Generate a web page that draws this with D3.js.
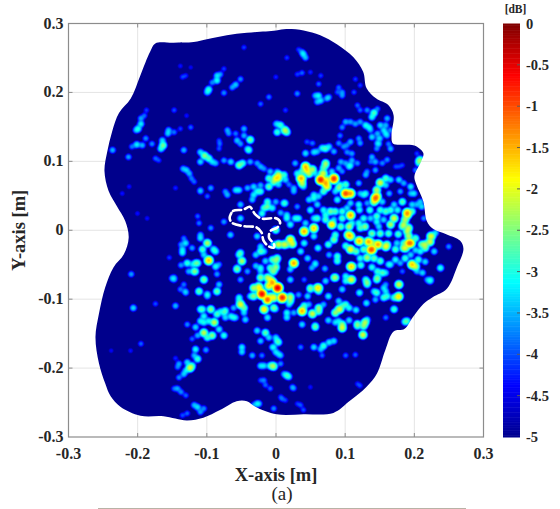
<!DOCTYPE html>
<html>
<head>
<meta charset="utf-8">
<script src="https://cdn.jsdelivr.net/npm/d3@7"></script>
<style>
  html, body { margin: 0; padding: 0; background: #fff; }
  text { font-family: "Liberation Serif", serif; fill: #262626; }
</style>
</head>
<body>
<div id="chart"></div>
<script>
// Axis ticks and labels
const xTicks = [-0.3, -0.2, -0.1, 0, 0.1, 0.2, 0.3];
const yTicks = [-0.3, -0.2, -0.1, 0, 0.1, 0.2, 0.3];
const barTicks = [0, -0.5, -1, -1.5, -2, -2.5, -3, -3.5, -4, -4.5, -5];

// Aperture outline, [x, y] in metres
const outline = [
  [-0.1745, 0.271], [-0.148, 0.272], [-0.119, 0.273], [-0.1, 0.277], [-0.071, 0.283], [-0.042, 0.2865], [0, 0.29],
  [0.015, 0.292], [0.04, 0.29], [0.064, 0.283], [0.088, 0.27], [0.112, 0.251], [0.126, 0.23], [0.131, 0.206],
  [0.145, 0.191], [0.162, 0.182], [0.17, 0.167], [0.167, 0.138], [0.169, 0.126], [0.184, 0.124], [0.2, 0.123],
  [0.213, 0.112], [0.21, 0.1], [0.2, 0.078], [0.203, 0.066], [0.213, 0.042], [0.218, 0.0135], [0.227, 0.002],
  [0.247, -0.006], [0.266, -0.015], [0.271, -0.027], [0.2615, -0.054], [0.247, -0.085], [0.227, -0.097],
  [0.213, -0.107], [0.198, -0.126], [0.186, -0.143], [0.17, -0.147], [0.158, -0.174], [0.146, -0.208],
  [0.131, -0.227], [0.105, -0.249], [0.083, -0.265], [0.04, -0.267], [0.001, -0.267], [-0.03, -0.256],
  [-0.042, -0.248], [-0.057, -0.248], [-0.081, -0.261], [-0.105, -0.272], [-0.129, -0.276], [-0.1625, -0.27],
  [-0.196, -0.269], [-0.225, -0.256], [-0.239, -0.241], [-0.247, -0.222], [-0.256, -0.193], [-0.261, -0.155],
  [-0.256, -0.121], [-0.247, -0.083], [-0.235, -0.054], [-0.22, -0.035], [-0.213, -0.011], [-0.218, 0.0135],
  [-0.23, 0.035], [-0.242, 0.057], [-0.248, 0.086], [-0.244, 0.114], [-0.237, 0.143], [-0.227, 0.17],
  [-0.21, 0.191], [-0.196, 0.225], [-0.182, 0.259]
];

// White dashed region, [x, y] in metres
const dashedRegion = [
  [-0.0655, 0.023], [-0.062, 0.028], [-0.047, 0.03], [-0.038, 0.034], [-0.03, 0.023], [-0.021, 0.017],
  [0.001, 0.017], [0.006, 0.011], [0.002, 0.004], [-0.008, -0.001], [-0.01, -0.011], [-0.003, -0.02],
  [-0.003, -0.025], [-0.011, -0.023], [-0.018, -0.015], [-0.021, -0.003], [-0.028, 0.004], [-0.047, 0.006],
  [-0.064, 0.011], [-0.067, 0.018]
];

// Hot spots, [x, y, dB]
const spotsNW = [
  [-0.047,0.266,-3.8],[-0.086,0.225,-3],[-0.098,0.205,-2.7],[-0.059,0.212,-3.1],[-0.076,0.2,-3.4],[-0.136,0.223,-3.8],
  [-0.076,0.235,-3.8],[-0.196,0.155,-2.9],[-0.2,0.148,-2.8],[-0.191,0.167,-3.6],[-0.148,0.175,-3.7],[-0.13,0.167,-4],
  [-0.202,0.125,-2.9],[-0.189,0.134,-3.4],[-0.164,0.124,-2.3],[-0.157,0.141,-3.1],[-0.237,0.117,-3.2],[-0.214,0.107,-3.3],
  [-0.17,0.102,-3.8],[-0.134,0.117,-3.2],[-0.104,0.109,-2.2],[-0.093,0.1,-3],[-0.13,0.088,-3.1],[-0.123,0.076,-3.5],
  [-0.071,0.146,-3.3],[-0.047,0.148,-3.2],[-0.038,0.132,-2.3],[-0.057,0.131,-3.1],[-0.04,0.117,-2.7],[-0.082,0.126,-3.6],
  [-0.054,0.095,-2.3],[-0.076,0.102,-3.3],[-0.038,0.1,-3.2],[-0.023,0.093,-3.2],[-0.001,0.076,-1.6],[-0.011,0.064,-2.4],
  [-0.023,0.184,-3.6],[-0.011,0.194,-3.5],[0.001,0.155,-3.2],[-0.028,0.057,-2.8],[-0.054,0.059,-3],[-0.033,0.064,-3],
  [-0.071,0.052,-3.2],[-0.095,0.062,-3.3],[-0.11,0.059,-3.5],[-0.1,0.05,-3.6],[-0.013,0.035,-2.4],[-0.018,0.033,-2.6],
  [-0.052,0.018,-3],[-0.114,0.021,-3.6],[-0.146,0.062,-3.9],[-0.213,0.064,-4],[-0.223,0.054,-4],[-0.201,0.025,-4],
  [-0.187,0.018,-4],[-0.112,0.011,-3.5],[-0.095,0.004,-3.4],[-0.076,0.013,-3.3],
  [-0.1,0.201,-3],[-0.093,0.215,-3.4],[-0.086,0.218,-2.8],[-0.081,0.227,-3.4],[-0.064,0.208,-3.3],[-0.052,0.22,-3.4],
  [-0.139,0.239,-4],[-0.124,0.237,-4.1],[-0.131,0.225,-3.9],[-0.196,0.163,-3.3],[-0.188,0.175,-3.8],[-0.203,0.146,-3.2],
  [-0.194,0.124,-3.2],[-0.209,0.122,-3.5],[-0.18,0.126,-3.4],[-0.165,0.131,-3],[-0.167,0.119,-2.8],[-0.156,0.146,-3.2],
  [-0.148,0.143,-3.5],[-0.139,0.148,-3.8],[-0.124,0.15,-3.6],[-0.175,0.105,-3.6],[-0.11,0.114,-3],[-0.098,0.105,-2.5],
  [-0.11,0.1,-3],[-0.088,0.098,-3.2],[-0.135,0.09,-3.2],[-0.126,0.083,-3.2],[-0.119,0.071,-3.6],[-0.11,0.057,-3.4],
  [-0.069,0.141,-3.4],[-0.059,0.141,-3.5],[-0.052,0.126,-3.3],[-0.047,0.138,-3.2],[-0.042,0.119,-3.2],[-0.083,0.131,-3.8],
  [-0.083,0.119,-3.7],[-0.066,0.1,-3],[-0.049,0.098,-2.6],[-0.028,0.098,-3.3],[-0.018,0.09,-3.4],[-0.009,0.086,-3.1],
  [-0.011,0.076,-2.5],[0.003,0.081,-2],[-0.023,0.066,-3.2],[-0.042,0.062,-3.2],[-0.059,0.059,-3],[-0.074,0.057,-3.4],
  [-0.033,0.052,-2.9],[-0.023,0.057,-2.7],[-0.035,0.045,-3.1],[-0.013,0.042,-2.6],[-0.006,0.033,-2.8],[-0.021,0.025,-2.7],
  [-0.052,0.038,-3.1]
];
const spotsNE = [
  [0.039,0.256,-3],[0.032,0.263,-3.8],[0.015,0.251,-3.8],[-0.001,0.223,-3.9],[0.037,0.229,-3.6],[0.061,0.196,-2.9],
  [0.073,0.192,-3.2],[0.061,0.213,-3.6],[0.03,0.199,-3.4],[0.013,0.175,-3.8],[0.09,0.208,-3.6],[0.095,0.201,-3.4],
  [0.121,0.211,-3.8],[0.114,0.22,-3.8],[0.141,0.171,-2.5],[0.121,0.175,-3.6],[0.1,0.158,-3.2],[0.129,0.153,-2.8],
  [0.16,0.163,-3.2],[0.155,0.146,-3],[0.136,0.146,-3.3],[0.012,0.146,-2],[-0.001,0.155,-3.5],[0.092,0.138,-3.5],
  [0.107,0.129,-3.2],[0.119,0.134,-3.4],[0.16,0.138,-3.3],[0.148,0.126,-3.2],[0.071,0.119,-2.6],[0.054,0.114,-3],
  [0.044,0.129,-3.7],[0.042,0.113,-3.5],[0.102,0.114,-3.4],[0.107,0.095,-3],[0.131,0.086,-3.5],[0.136,0.1,-3.6],
  [0.206,0.101,-2.5],[0.201,0.088,-3.5],[0.177,0.093,-3.9],[0.071,0.095,-2.6],[0.044,0.088,-1.5],[0.037,0.076,-1.8],
  [0.037,0.069,-1.9],[0.064,0.074,-0.9],[0.071,0.069,-1.2],[0.083,0.076,-0.9],[0.068,0.083,-2],[0.003,0.076,-1.9],
  [-0.004,0.071,-2.2],[0.011,0.081,-2.6],[0.1,0.054,-1.2],[0.107,0.054,-1.7],[0.092,0.066,-2.6],[0.085,0.057,-3],
  [0.054,0.052,-2.9],[0.039,0.064,-3],[0.025,0.062,-3.2],[0.145,0.05,-1.4],[0.141,0.042,-1.9],[0.15,0.069,-2.3],
  [0.158,0.066,-3],[0.119,0.038,-2.8],[0.126,0.052,-3],[0.102,0.033,-3],[0.182,0.042,-3],[0.194,0.054,-3.2],
  [0.203,0.038,-3.2],[0.189,0.023,-1.6],[0.184,0.009,-2],[0.191,0.004,-2],[0.213,0.018,-3.4],[0.158,0.028,-2.5],
  [0.107,0.022,-1.7],[0.095,0.018,-2.5],[0.085,0.028,-2.5],[0.059,0.018,-2.6],[0.071,0.023,-2.7],[0.04,-0.001,-1.2],
  [0.054,0.004,-1.8],[0.08,0.009,-2.2],[0.105,0.006,-2],[0.015,0.023,-3],[0.011,0.04,-2.7],[0.136,0.018,-3],
  [0.145,0.013,-2.8],[0.121,0.004,-2.5],[-0.001,0.001,-2.4],[0.027,0.018,-2.8],[0.03,0.035,-3.4],
  [0.042,0.251,-3.2],[0.037,0.259,-3.3],[0.056,0.196,-3.2],[0.064,0.189,-3],[0.059,0.187,-3.2],[0.076,0.194,-3.4],
  [0.03,0.227,-3.8],[0.049,0.23,-3.9],[0.064,0.225,-3.8],[0.088,0.201,-3.7],[0.095,0.196,-3.4],[0.112,0.201,-3.7],
  [0.117,0.182,-3.6],[0.131,0.175,-3.4],[0.146,0.177,-3.5],[0.138,0.165,-2.8],[0.121,0.158,-3.3],[0.114,0.155,-3.3],
  [0.107,0.158,-3.3],[0.095,0.15,-3.4],[0.134,0.15,-2.9],[0.15,0.153,-3],[0.158,0.153,-3.2],[0.165,0.146,-3.4],
  [0.162,0.126,-3.5],[0.15,0.134,-3.4],[0.145,0.119,-3.4],[0.097,0.122,-3.4],[0.109,0.102,-3.2],[0.105,0.093,-3],
  [0.095,0.086,-3.4],[0.006,0.153,-2.6],[0.015,0.143,-2.5],[0.001,0.143,-2.6]
];
// Denser read of the central tiles
const spotsCentreN = [
  [0.003,0.079,-2.2],[0.003,0.067,-3],[0.013,0.074,-3],[0.001,0.086,-3.3],[0.025,0.057,-3.2],[0.018,0.067,-3.5],
  [0.013,0.04,-3.3],[-0.001,0.042,-3.2],[0.006,0.026,-3.2],[0.015,0.018,-2.8],[0.02,0.009,-2.8],[0.032,0.018,-2.8],
  [0.042,0.011,-3],[0.054,0.004,-2.2],[0.042,0.093,-1.3],[0.052,0.089,-2],[0.037,0.086,-2.5],[0.035,0.076,-1.4],
  [0.047,0.083,-2],[0.03,0.083,-2.8],[0.027,0.098,-3.2],[0.042,0.112,-3.2],[0.052,0.127,-3.5],[0.054,0.047,-2.8],
  [0.047,0.045,-3],[0.061,0.05,-3],[0.064,0.074,-0.8],[0.071,0.098,-2.2],[0.068,0.091,-2.5],[0.073,0.074,-1.8],
  [0.083,0.075,-1],[0.073,0.064,-1.6],[0.068,0.057,-2.5],[0.066,0.083,-2.3],[0.056,0.083,-3],[0.08,0.086,-3],
  [0.09,0.091,-3.2],[0.093,0.1,-3.2],[0.066,0.12,-2.8],[0.076,0.122,-3],[0.059,0.115,-3.2],[0.083,0.115,-3.2],
  [0.09,0.127,-3.4],[0.1,0.054,-1],[0.107,0.054,-1.4],[0.1,0.067,-2.5],[0.09,0.062,-2.3],[0.088,0.045,-2.8],
  [0.107,0.023,-1.5],[0.095,0.028,-2.6],[0.078,0.028,-2.3],[0.068,0.03,-2.8],[0.059,0.038,-3],[0.049,0.03,-2.8],
  [0.054,0.018,-3],[0.071,0.016,-2.5],[0.083,0.016,-3],[0.093,0.006,-2.4],[0.08,0.009,-1.6],[0.107,0.04,-3],
  [0.129,0.054,-2.9],[0.121,0.054,-3.2],[0.119,0.069,-3.2],[0.129,0.081,-3.2],[0.131,0.04,-3.3],[0.126,0.018,-2.7],
  [0.119,0.011,-2.7],[0.109,0.011,-2.8],[0.1,0.098,-3.3],[0.109,0.112,-3.3],[0.121,0.127,-3.3],[0.102,0.124,-3.5],
  [0.117,0.098,-3.4],[0.143,0.047,-0.9],[0.145,0.059,-2],[0.15,0.07,-2],[0.158,0.076,-2.5],[0.165,0.074,-3],
  [0.177,0.074,-3],[0.184,0.069,-3.2],[0.194,0.064,-2.9],[0.179,0.057,-3.3],[0.163,0.054,-3.2],[0.153,0.042,-3],
  [0.17,0.038,-3],[0.182,0.042,-2.7],[0.199,0.054,-3],[0.208,0.042,-3.1],[0.21,0.035,-3],[0.196,0.038,-3],
  [0.189,0.026,-1.2],[0.186,0.016,-2],[0.196,0.028,-2.5],[0.17,0.018,-1.8],[0.165,0.009,-2],[0.155,0.016,-3],
  [0.145,0.021,-2.5],[0.148,0.006,-3],[0.182,0.006,-2.4],[0.208,0.103,-2.4],[0.206,0.098,-2.8],[0.203,0.112,-3.8],
  [0.143,0.1,-3.2],[0.138,0.107,-3.2],[0.146,0.127,-3.2],[0.148,0.134,-3.3],[0.143,0.088,-3.3],[0.165,0.119,-3.2],
  [0.16,0.103,-3.4],[0.153,0.098,-3.4],[0.172,0.093,-3.8],[0.182,0.095,-3.8],[0.138,0.136,-3],[0.158,0.141,-3],
  [0.146,0.141,-3.2],
  [0.12,0.03,-2.8],[0.135,0.03,-2.6],[0.15,0.03,-2.6],[0.165,0.03,-2.6],[0.175,0.03,-2.8],[0.128,0.006,-2.2]
];
const spotsCentreS = [
  [0.003,-0.02,-1.8],[0.015,-0.02,-2.4],[0.023,-0.019,-1.8],[0.04,-0.018,-2.8],[0.054,-0.008,-2.9],[-0.006,-0.042,-2.5],
  [-0.001,-0.052,-2.4],[-0.006,-0.059,-2.8],[0.025,-0.047,-1.5],[0.02,-0.056,-3],[0.02,-0.071,-3],[0.002,-0.083,-0.6],
  [-0.006,-0.076,-1.6],[0.009,-0.097,-0.9],[-0.004,-0.097,-1.6],[0.02,-0.095,-2.5],[0.02,-0.102,-2.4],[-0.009,-0.095,-2.2],
  [0.059,-0.083,-1.8],[0.049,-0.085,-2.7],[0.061,-0.088,-2.7],[0.083,-0.068,-2.6],[0.071,-0.073,-3],[0.107,-0.052,-1.8],
  [0.107,-0.071,-2.1],[0.1,-0.073,-2.8],[0.129,-0.071,-2.7],[0.131,-0.078,-2.7],[0.107,-0.027,-1.6],[0.119,-0.015,-1.5],
  [0.104,-0.006,-1.5],[0.085,-0.006,-2.6],[0.088,-0.044,-2.6],[0.076,-0.035,-3.2],[0.056,-0.047,-3.2],[0.051,-0.054,-3.2],
  [0.126,-0.027,-2.4],[0.121,-0.04,-2.7],[0.037,-0.117,-1.6],[0.052,-0.121,-2.2],[0.061,-0.117,-2.4],[0.04,-0.109,-2.5],
  [0.015,-0.126,-2.9],[0.025,-0.119,-3.2],[0.09,-0.114,-2.1],[0.085,-0.119,-2.1],[0.095,-0.109,-2.7],[0.105,-0.112,-2.8],
  [0.095,-0.136,-2.2],[0.085,-0.133,-3],[0.117,-0.138,-2.5],[0.126,-0.138,-2.2],[0.131,-0.129,-3],[0.056,-0.138,-2.8],
  [-0.001,-0.114,-3.3],[0.006,-0.1,-2.8],[0.018,-0.107,-3],[0.047,-0.107,-3.2],[0.068,-0.107,-3.2],[0.032,-0.093,-3.3],
  [0.04,-0.071,-3.6],
  [0.136,-0.028,-1.2],[0.146,-0.02,-1.4],[0.158,-0.023,-1.7],[0.138,-0.018,-2],[0.141,-0.04,-2.4],[0.15,-0.044,-2.5],
  [0.165,-0.049,-3],[0.172,-0.027,-2.5],[0.184,-0.018,-2.5],[0.194,-0.018,-1.1],[0.187,-0.025,-2],[0.191,-0.008,-2],
  [0.201,-0.011,-2.5],[0.196,-0.049,-1.8],[0.201,-0.052,-1.9],[0.21,-0.02,-2.3],[0.222,-0.016,-1.8],[0.215,-0.025,-2.3],
  [0.225,-0.008,-2.4],[0.208,-0.03,-2.8],[0.23,-0.003,-3],[0.237,-0.054,-3],[0.249,-0.023,-3.4],[0.222,-0.073,-3],
  [0.218,-0.071,-3.3],[0.211,-0.061,-3],[0.146,-0.068,-2.5],[0.146,-0.059,-2.6],[0.158,-0.061,-3],[0.141,-0.088,-3],
  [0.158,-0.078,-3.4],[0.177,-0.078,-2.2],[0.177,-0.095,-1.9],[0.17,-0.097,-2.6],[0.155,-0.097,-2.6],[0.158,-0.088,-3],
  [0.143,-0.1,-3.2],[0.17,-0.114,-2.9],[0.158,-0.126,-3.5],[0.186,-0.132,-2.6],[0.179,-0.047,-3.2],[0.194,-0.035,-3],
  [0.201,-0.028,-3],[0.182,-0.059,-3.6],
  [-0.091,-0.027,-2.8],[-0.105,-0.035,-3],[-0.088,-0.052,-2.8],[-0.117,-0.047,-2.7],[-0.129,-0.047,-3],[-0.136,-0.027,-3],
  [-0.132,-0.018,-3.3],[-0.117,-0.059,-2.8],[-0.127,-0.059,-3.2],[-0.112,-0.088,-2.9],[-0.1,-0.095,-3.2],[-0.086,-0.088,-2.8],
  [-0.132,-0.088,-3.3],[-0.139,-0.085,-3.5],[-0.151,-0.069,-3.3],[-0.146,-0.109,-3.5],[-0.067,-0.006,-3.4],[-0.054,-0.035,-2.7],
  [-0.057,-0.056,-2.4],[-0.052,-0.071,-3.3],[-0.054,-0.102,-2.9],[-0.047,-0.112,-2.4],[-0.107,-0.114,-2.7],[-0.081,-0.117,-3],
  [-0.105,-0.133,-2.8],[-0.074,-0.126,-3],[-0.059,-0.126,-3.2],[-0.038,-0.095,-3],[-0.026,-0.08,-2.4],[-0.023,-0.09,-1.5],
  [-0.011,-0.08,-1.5],[-0.013,-0.068,-2],[-0.023,-0.059,-3.2],[-0.03,-0.035,-3],[-0.023,-0.03,-2.5],[-0.045,-0.129,-3],
  [-0.018,-0.114,-2],[-0.013,-0.126,-2.9],[-0.023,-0.023,-3],
  [0.138,-0.004,-2.3],[0.15,-0.004,-2.4],[0.162,-0.004,-2.5],[0.176,-0.005,-2.5],[0.115,-0.03,-2.4],[0.122,-0.05,-2.6],
  [0.138,-0.053,-2.7],[0.172,-0.042,-2.8],[0.186,-0.04,-2.6],[0.205,-0.042,-2.6],[0.215,-0.045,-3],[0.228,-0.03,-3],
  [0.1,-0.022,-2.6],[0.075,-0.02,-2.6],[0.06,-0.025,-2.8],[0.035,-0.03,-2.9],[0.045,-0.04,-3],[0.07,-0.055,-3.2],
  [0.095,-0.085,-3],[0.12,-0.09,-2.8],[0.13,-0.105,-2.9],[0.115,-0.115,-2.9],[0.075,-0.095,-2.9],[0.045,-0.095,-3],
  [0.075,-0.13,-3],[0.105,-0.13,-3]
];
const spotsSE = [
  [0.054,0.003,-2],[0.02,-0.013,-1.5],[0.011,-0.02,-1.9],[0.107,-0.008,-1.5],[0.083,-0.013,-2.3],[0.121,-0.015,-1.8],
  [0.133,-0.016,-1.2],[0.138,-0.027,-0.9],[0.148,-0.02,-1.7],[0.131,-0.039,-2],[0.16,-0.02,-2.3],[0.191,-0.018,-1.2],
  [0.184,-0.025,-2],[0.223,-0.008,-1.9],[0.215,-0.02,-2],[0.196,-0.049,-1.7],[0.189,-0.001,-2],[0.174,-0.018,-3],
  [0.162,-0.049,-3],[0.153,-0.061,-2.5],[0.145,-0.071,-2.5],[0.109,-0.052,-1.7],[0.088,-0.037,-2.6],[0.025,-0.047,-1.6],
  [-0.001,-0.044,-2.4],[-0.001,-0.054,-2.6],[0.056,-0.049,-3.2],[0.085,-0.068,-2.2],[0.109,-0.071,-2],[0.1,-0.066,-2.8],
  [0.131,-0.075,-2.4],[0.061,-0.083,-1.8],[0.049,-0.083,-2.5],[-0.006,-0.075,-1.4],[0.008,-0.097,-0.9],[0.02,-0.097,-2.2],
  [0.037,-0.116,-1.6],[0.052,-0.12,-2.2],[0.061,-0.112,-2.2],[0.015,-0.119,-2.8],[0.092,-0.114,-2.1],[0.1,-0.107,-2.6],
  [0.09,-0.102,-3],[0.037,-0.136,-3],[0.056,-0.14,-2.6],[0.095,-0.141,-1.8],[0.09,-0.131,-3],[0.117,-0.135,-2.5],
  [0.128,-0.133,-2],[0.125,-0.151,-1.8],[0.177,-0.078,-2.2],[0.176,-0.096,-1.8],[0.16,-0.095,-2.7],[0.145,-0.09,-2.6],
  [0.155,-0.083,-3],[0.17,-0.114,-3],[0.189,-0.131,-2.7],[0.237,-0.054,-3.2],[0.223,-0.071,-3.2],[0.203,-0.059,-3.2],
  [0.001,-0.16,-2.8],[0.068,-0.167,-2.6],[0.054,-0.169,-3],[0.083,-0.16,-3],[-0.001,-0.176,-3],[-0.006,-0.196,-2.5],
  [0.006,-0.181,-3.2],[0.015,-0.21,-2.7],[0.035,-0.169,-3.5],[0.114,-0.18,-3.6],[0.1,-0.181,-3.6],[0.023,-0.227,-3.4],
  [0.121,-0.225,-3.8],[0.008,-0.244,-3.7],[0.035,-0.253,-3.7],[0.049,-0.227,-4],[0.066,-0.181,-3.6],
  [0.064,-0.172,-3.1],[0.076,-0.162,-2.9],[-0.001,-0.155,-3],[0.003,-0.162,-2.7],[-0.006,-0.169,-3.2],[0.006,-0.193,-3.4],
  [-0.004,-0.198,-2.7],[0.011,-0.208,-3.2],[0.018,-0.212,-3],[0.025,-0.229,-3.6],[0.006,-0.241,-3.8],[0.013,-0.246,-3.8],
  [0.03,-0.251,-3.9],[0.039,-0.26,-3.7],[0.117,-0.222,-3.9]
];
const spotsSW = [
  [-0.1,-0.018,-2],[-0.107,-0.027,-2.5],[-0.098,-0.043,-1.3],[-0.088,-0.03,-2.8],[-0.119,-0.059,-2.4],[-0.105,-0.071,-2.3],
  [-0.136,-0.032,-2.9],[-0.129,-0.047,-3],[-0.114,-0.047,-2.6],[-0.086,-0.088,-2.7],[-0.112,-0.088,-2.7],[-0.1,-0.092,-3],
  [-0.131,-0.09,-3.4],[-0.148,-0.071,-3.4],[-0.05,-0.044,-2],[-0.052,-0.032,-2.7],[-0.057,-0.054,-3],[-0.11,-0.006,-3.2],
  [-0.134,-0.011,-3.5],[-0.155,-0.039,-3.8],[-0.066,-0.006,-3.5],[-0.023,-0.054,-2.8],[0.001,-0.04,-2.3],[-0.009,-0.054,-2.5],
  [0.001,-0.083,-0.6],[-0.021,-0.092,-0.4],[-0.013,-0.1,-0.8],[-0.025,-0.083,-1.6],[-0.009,-0.071,-1.8],[-0.033,-0.095,-2.2],
  [-0.018,-0.114,-1.8],[-0.004,-0.112,-2.3],[-0.052,-0.107,-1.7],[-0.047,-0.119,-3],[-0.095,-0.114,-2.2],[-0.11,-0.114,-2.8],
  [-0.09,-0.133,-1.9],[-0.105,-0.148,-1.9],[-0.093,-0.152,-2.2],[-0.076,-0.119,-2.8],[-0.062,-0.126,-3],[-0.076,-0.152,-2.7],
  [-0.11,-0.131,-2.9],[-0.117,-0.172,-2.8],[-0.102,-0.173,-3.3],[-0.114,-0.186,-2.6],[-0.125,-0.199,-1.8],[-0.141,-0.193,-3.3],
  [-0.131,-0.203,-3],[-0.141,-0.213,-3.4],[-0.21,-0.063,-3.3],[-0.207,-0.112,-3],[-0.175,-0.106,-3.7],[-0.146,-0.109,-3.6],
  [-0.196,-0.164,-3.6],[-0.211,-0.174,-4],[-0.239,-0.174,-4.1],[-0.138,-0.234,-3.4],[-0.148,-0.229,-3.6],[-0.114,-0.256,-3],
  [-0.11,-0.263,-3.3],[-0.129,-0.265,-3.6],[-0.05,-0.169,-2.9],[-0.035,-0.181,-3.2],[-0.016,-0.148,-2.4],[-0.023,-0.16,-3.1],
  [-0.004,-0.196,-2.5],[-0.018,-0.196,-3],[-0.004,-0.169,-3],[0.003,-0.179,-3.2],[-0.018,-0.217,-3.5],[-0.009,-0.229,-3.6],
  [-0.028,-0.251,-3],[-0.004,-0.258,-3.4],[-0.028,-0.008,-3],[-0.018,-0.03,-3],
  [-0.11,-0.011,-3],[-0.131,-0.018,-3.3],[-0.138,-0.02,-3.4],[-0.122,-0.025,-3.3],[-0.138,-0.05,-3.3],[-0.148,-0.068,-3.4],
  [-0.134,-0.078,-3.5],[-0.121,-0.049,-3],[-0.083,-0.049,-3.4],[-0.086,-0.063,-3.3],[-0.083,-0.078,-3.1],[-0.105,-0.124,-2.8],
  [-0.098,-0.131,-2.8],[-0.086,-0.121,-2.5],[-0.074,-0.116,-2.7],[-0.066,-0.124,-2.9],[-0.083,-0.143,-2.9],[-0.1,-0.155,-2.6],
  [-0.114,-0.152,-3.2],[-0.122,-0.157,-3.6],[-0.129,-0.136,-3.4],[-0.117,-0.14,-3],[-0.119,-0.181,-3.2],[-0.129,-0.191,-3],
  [-0.122,-0.196,-2.6],[-0.134,-0.208,-3.1],[-0.143,-0.198,-3.5],[-0.146,-0.185,-3.9],[-0.143,-0.229,-3.3],[-0.131,-0.239,-3.6],
  [-0.119,-0.253,-3.2],[-0.105,-0.258,-3.4],[-0.136,-0.268,-3.7],[-0.028,-0.145,-3],[-0.011,-0.155,-3],[-0.05,-0.176,-3],
  [-0.021,-0.181,-3.5],[-0.023,-0.196,-3],[-0.009,-0.196,-2.7],[-0.016,-0.224,-3.6],[-0.023,-0.217,-3.7],[-0.025,-0.251,-3.3],
  [-0.033,-0.253,-3.4],[-0.062,-0.112,-3.2],[-0.054,-0.097,-2.8],[-0.023,-0.068,-2.2],[-0.033,-0.083,-2],[-0.004,-0.059,-2.4],
  [-0.016,-0.044,-3],[-0.03,-0.051,-3.1],[-0.042,-0.059,-3.3],[-0.004,-0.02,-2.8]
];
const spots = spotsNW.concat(spotsNE, spotsCentreN, spotsCentreS, spotsSE, spotsSW);

const width = 560;
const height = 509;
const margin = { top: 23.5, right: 76.5, bottom: 72, left: 68.5 };
const plotW = width - margin.left - margin.right;
const plotH = height - margin.top - margin.bottom;

const svg = d3.select("#chart").append("svg")
  .attr("width", width)
  .attr("height", height);

const defs = svg.append("defs");
defs.append("filter").attr("id", "soft")
  .append("feGaussianBlur").attr("stdDeviation", 0.6);

// Set the ranges
const x = d3.scaleLinear().domain([-0.3, 0.3]).range([margin.left, margin.left + plotW]);
const y = d3.scaleLinear().domain([-0.3, 0.3]).range([margin.top + plotH, margin.top]);

// MATLAB jet
const jet = d3.scaleLinear()
  .domain([-5, -4.375, -3.125, -1.875, -0.625, 0])
  .range(["#00008c", "#0000ff", "#00ffff", "#ffff00", "#ff0000", "#800000"])
  .clamp(true);

// Grid
const gridCol = "#e4e4e4";
svg.append("g").selectAll("line").data(xTicks.slice(1, -1)).enter().append("line")
  .attr("x1", d => x(d)).attr("x2", d => x(d))
  .attr("y1", y(-0.3)).attr("y2", y(0.3))
  .attr("stroke", gridCol);
svg.append("g").selectAll("line").data(yTicks.slice(1, -1)).enter().append("line")
  .attr("y1", d => y(d)).attr("y2", d => y(d))
  .attr("x1", x(-0.3)).attr("x2", x(0.3))
  .attr("stroke", gridCol);

// Heat map: sum of the spots in linear power, back to dB, then contoured
const cell = 1;
const nx = Math.round(plotW / cell);
const ny = Math.round(plotH / cell);
const power = new Float64Array(nx * ny);
const soft = 0.55;
const spotR = 0.0085;
const floorDb = -5;
spots.forEach(s => {
  const peak = s[2] - 0.2;
  const reach = spotR * Math.sqrt(Math.max(peak + 7, 0) / 3);
  const i0 = Math.max(0, Math.floor((x(s[0] - reach) - margin.left) / cell));
  const i1 = Math.min(nx - 1, Math.ceil((x(s[0] + reach) - margin.left) / cell));
  const j0 = Math.max(0, Math.floor((y(s[1] + reach) - margin.top) / cell));
  const j1 = Math.min(ny - 1, Math.ceil((y(s[1] - reach) - margin.top) / cell));
  for (let j = j0; j <= j1; j++) {
    for (let i = i0; i <= i1; i++) {
      const dx = x.invert(margin.left + i * cell) - s[0];
      const dy = y.invert(margin.top + j * cell) - s[1];
      const v = peak - 3 * (dx * dx + dy * dy) / (spotR * spotR);
      power[j * nx + i] += Math.exp(v / soft);
    }
  }
});
const field = Float64Array.from(power, p => Math.max(floorDb, soft * Math.log(p + 1e-12)));

const levels = d3.range(-4.9, 0, 0.1);
const contours = d3.contours().size([nx, ny]).thresholds(levels)(field);
const toPlot = d3.geoTransform({
  point(px, py) { this.stream.point(margin.left + px * cell, margin.top + py * cell); }
});
const contourPath = d3.geoPath(toPlot);

const linePath = d3.line().x(d => x(d[0])).y(d => y(d[1])).curve(d3.curveCatmullRomClosed.alpha(0.5));
defs.append("clipPath").attr("id", "blob").append("path").attr("d", linePath(outline));

// Clip outside the blur so the aperture edge stays crisp
const heat = svg.append("g").attr("clip-path", "url(#blob)").append("g").attr("filter", "url(#soft)");
heat.append("rect")
  .attr("x", x(-0.3)).attr("y", y(0.3)).attr("width", plotW).attr("height", plotH)
  .attr("fill", jet(-5));
heat.append("g")
  .selectAll("path").data(contours).enter().append("path")
  .attr("d", contourPath)
  .attr("fill", d => jet(d.value));

// Dashed region
svg.append("path")
  .attr("d", linePath(dashedRegion))
  .attr("fill", "none")
  .attr("stroke", "#fff")
  .attr("stroke-width", 2.6)
  .attr("stroke-dasharray", "8 4")
  .attr("stroke-linecap", "round");

// Axes box and ticks
const boxCol = "#8c8c8c";
svg.append("rect")
  .attr("x", x(-0.3)).attr("y", y(0.3)).attr("width", plotW).attr("height", plotH)
  .attr("fill", "none").attr("stroke", boxCol).attr("stroke-width", 1.2);

const tickG = svg.append("g").attr("stroke", boxCol);
xTicks.slice(1, -1).forEach(t => {
  tickG.append("line").attr("x1", x(t)).attr("x2", x(t)).attr("y1", y(-0.3)).attr("y2", y(-0.3) - 4);
  tickG.append("line").attr("x1", x(t)).attr("x2", x(t)).attr("y1", y(0.3)).attr("y2", y(0.3) + 4);
});
yTicks.slice(1, -1).forEach(t => {
  tickG.append("line").attr("y1", y(t)).attr("y2", y(t)).attr("x1", x(-0.3)).attr("x2", x(-0.3) + 4);
  tickG.append("line").attr("y1", y(t)).attr("y2", y(t)).attr("x1", x(0.3)).attr("x2", x(0.3) - 4);
});

// Tick labels
const tickFont = 16;
svg.append("g").selectAll("text").data(xTicks).enter().append("text")
  .attr("x", d => x(d)).attr("y", y(-0.3) + 22)
  .attr("text-anchor", "middle").attr("font-size", tickFont).attr("font-weight", "bold")
  .text(d => d);
svg.append("g").selectAll("text").data(yTicks).enter().append("text")
  .attr("x", x(-0.3) - 5).attr("y", d => y(d) + 5)
  .attr("text-anchor", "end").attr("font-size", tickFont).attr("font-weight", "bold")
  .text(d => d);

// Axis titles
svg.append("text").attr("x", x(0)).attr("y", 481)
  .attr("text-anchor", "middle").attr("font-size", 18.5).attr("font-weight", "bold")
  .text("X-axis [m]");
svg.append("text").attr("transform", `translate(25,${y(0)}) rotate(-90)`)
  .attr("text-anchor", "middle").attr("font-size", 18.5).attr("font-weight", "bold")
  .text("Y-axis [m]");
svg.append("text").attr("x", x(0) + 6).attr("y", 500)
  .attr("text-anchor", "middle").attr("font-size", 19)
  .text("(a)");

// Colour bar
const barX = 503;
const barW = 17;
const barY = d3.scaleLinear().domain([-5, 0]).range([y(-0.3), y(0.3)]);
svg.append("g").selectAll("rect").data(d3.range(-5, 0, 0.02)).enter().append("rect")
  .attr("x", barX).attr("width", barW)
  .attr("y", d => barY(d + 0.02)).attr("height", barY(-5) - barY(-4.98) + 0.5)
  .attr("fill", d => jet(d + 0.01));
svg.append("g").selectAll("line").data(barTicks.slice(1, -1)).enter().append("line")
  .attr("x1", barX + barW - 3).attr("x2", barX + barW)
  .attr("y1", d => barY(d)).attr("y2", d => barY(d))
  .attr("stroke", "#5a5a5a");
svg.append("g").selectAll("text").data(barTicks).enter().append("text")
  .attr("x", barX + barW + 6).attr("y", d => barY(d) + 5)
  .attr("font-size", 14.5).attr("font-weight", "bold")
  .text(d => d);
svg.append("text").attr("x", barX + barW / 2 + 4).attr("y", 13)
  .attr("text-anchor", "middle").attr("font-size", 11.5).attr("font-weight", "bold")
  .text("[dB]");

// Edge of the next panel, just visible at the bottom of the crop
svg.append("rect").attr("x", 98).attr("y", 508).attr("width", 368).attr("height", 1)
  .attr("fill", "#b8b2a6");
</script>
</body>
</html>
